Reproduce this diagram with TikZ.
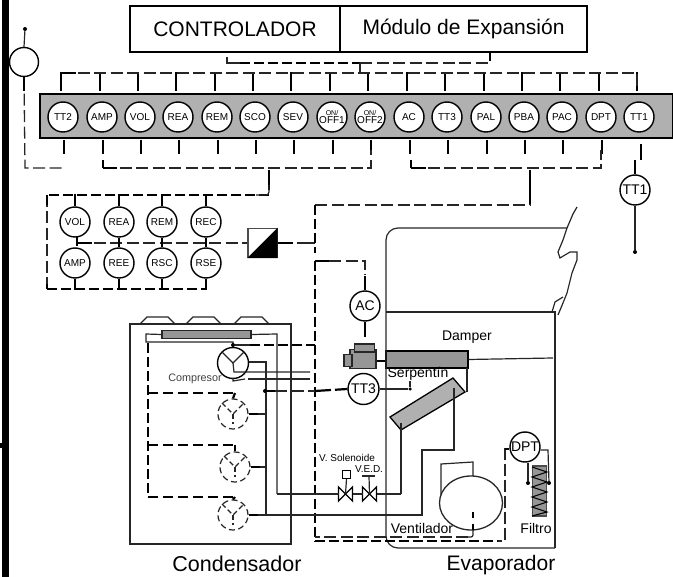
\documentclass[tikz,border=0pt]{standalone}
\usepackage{fontspec}
\setmainfont{Liberation Sans}
\usetikzlibrary{positioning, calc, shapes.geometric}
\definecolor{bargray}{RGB}{176, 176, 176}
\definecolor{coilgray}{RGB}{150, 150, 150}
\tikzset{
    sensor/.style={draw=black, fill=white, circle, line width=1.4pt, minimum size=30pt, inner sep=0pt, align=center, font=\fontsize{10}{8}\selectfont},
    bigsensor/.style={sensor, font=\fontsize{14}{14}\selectfont},
    wire/.style={draw=black!85, line width=1.2pt},
    stub/.style={draw=black, line width=2.2pt},
    signal/.style={draw=black!85, line width=1.3pt, dash pattern=on 12pt off 4.5pt},
    bus/.style={draw=black, line width=2.3pt, dash pattern=on 10pt off 4pt},
    label/.style={inner sep=0pt, font=\fontsize{14}{14}\selectfont},
    dot/.style={circle, fill=black, inner sep=0pt, minimum size=4pt},
    pump/.style={draw=black!85, fill=white, circle, line width=1.2pt, dash pattern=on 6pt off 3.5pt, minimum size=30pt, inner sep=0pt},
    valve/.style={draw=black, line width=1.3pt, fill=white}
}
\begin{document}
\begin{tikzpicture}[x=1pt, y=-1pt]
    \useasboundingbox (0,0) rectangle (673,577);
    \fill[black] (2,0) rectangle (9,577);
    \fill[black] (0,443) rectangle (9,448);

    % controller boxes
    \node[draw=black, line width=1.2pt, minimum width=210pt, minimum height=46pt, inner sep=0pt, font=\fontsize{21}{21}\selectfont] (ctrl) at (235,29) {CONTROLADOR};
    \node[draw=black, line width=1.2pt, minimum width=247pt, minimum height=46pt, inner sep=0pt, font=\fontsize{21}{21}\selectfont] (modulo) at (463.5,29) {Módulo de Expansión};

    % terminal bar
    \node[draw=black, line width=1.2pt, fill=bargray, minimum width=633pt, minimum height=44pt, inner sep=0pt] (bar) at (356.5,116) {};
    \foreach \name/\x/\txt in {TTdos/63/TT2, AMPa/102/AMP, VOLa/140/VOL, REAa/178/REA, REMa/217/REM, SCOa/255/SCO, SEVa/293/SEV, ONa/332/{\fontsize{7}{8}\selectfont ON/\\OFF1}, ONb/370/{\fontsize{7}{8}\selectfont ON/\\OFF2}, ACa/409/AC, TTtres/447/TT3, PALa/486/PAL, PBAa/524/PBA, PACa/562/PAC, DPTa/601/DPT, TTuno/639/TT1}
        \node[sensor] (\name) at (\x,117) {\txt};

    \foreach \name in {TTdos, AMPa, VOLa, REAa, REMa, SCOa, SEVa, ONa, ONb, ACa, TTtres, PALa, PBAa, PACa, DPTa, TTuno}
        \draw[stub] (\name.north) ++(-2,-29) -- ++(0,19);
    \foreach \name in {TTdos, AMPa, VOLa, REAa, REMa, SCOa, SEVa, ONa, ONb, ACa, TTtres, PALa, PBAa, PACa, DPTa}
        \draw[stub] (\name.south) ++(1,7) -- ++(0,14);

    \coordinate (topL) at (61,73);
    \coordinate (topR) at (637,73);
    \coordinate (lowA) at (103,168);
    \coordinate (lowB) at (371,168);
    \coordinate (lowC) at (411,168);
    \coordinate (lowD) at (601,168);
    \draw[signal] (topL) -- (topR) -- ++(0,17);
    \draw[signal] (lowA) -- (lowB) -- ++(0,-18);
    \draw[signal] (lowC) -- (lowD) -- ++(0,-18);
    \draw[stub] (lowA) -- ++(0,-8) (lowA) -- ++(14,0);
    \draw[stub] (lowC) -- ++(0,-8) (lowC) -- ++(15,0);
    \draw[stub] (topL) -- ++(15,0);
    \draw[stub] (ctrl.south -| 490,52) -- (490,61);

    % link to the controller
    \coordinate (linkA) at (227,63);
    \coordinate (linkB) at (490,63);
    \draw[wire] (227,57) -- (linkA) -- (240,63);
    \draw[bus] (240,63) -- (360,63);
    \draw[signal] (360,63) -- (linkB);
    \draw[wire] (360,63) -- (360,72);

    % room sensor on the left
    \node[draw=black, fill=white, circle, line width=1.4pt, minimum size=29pt, inner sep=0pt] (room) at (24,62) {};
    \node[dot] (roomtop) at (25,29) {};
    \draw[wire] (room.north) -- (roomtop);
    \coordinate (roomC) at (25,168);
    \draw[signal] (room.south) -- (roomC) -- (65,168);
    \draw[stub] (room.south) -- ++(0,14);

    % relay block
    \foreach \name/\x/\y/\txt in {VOLb/75/222/VOL, REAb/119/222/REA, REMb/162/222/REM, RECb/206/222/REC, AMPb/75/263/AMP, REEb/119/263/REE, RSCb/162/263/RSC, RSEb/206/263/RSE}
        \node[sensor] (\name) at (\x,\y) {\txt};
    \foreach \name in {VOLb, REAb, REMb, RECb}
        \draw[stub] (\name.north) -- ++(0,-12);
    \foreach \name in {AMPb, REEb, RSCb, RSEb}
        \draw[stub] (\name.south) -- ++(0,11);
    \coordinate (relayTL) at (47,195);
    \coordinate (relayBL) at (47,289);
    \coordinate (relayBR) at (207,289);
    \coordinate (relayTR) at (269,195);
    \draw[bus] (relayTR) -- (relayTL);
    \draw[signal] (relayTL) -- (relayBL);
    \draw[bus] (relayBL) -- (relayBR);
    \draw[stub] (relayTL) -- ++(0,10) (relayBL) -- ++(0,-5);
    \draw[stub] (269,170) -- (269,190);
    \draw[wire, rounded corners=3pt] (269,185) -- (relayTR) -- (256,195);

    \node[draw=black!70, line width=1.2pt, fill=white, minimum size=29pt, inner sep=0pt] (conv) at (262.5,243) {};
    \fill[black] (conv.south west) -- (conv.north east) -- (conv.south east) -- cycle;
    \coordinate (relayM) at (77,243);
    \draw[signal] (relayM) -- (conv.west);
    \draw[stub] (relayM) -- ++(0,-6) (relayM) -- ++(0,3) (relayM) -- ++(15,0);
    \foreach \name/\other in {REAb/REEb, REMb/RSCb, RECb/RSEb}
        \draw[stub] (\name.south) -- (\other.north);

    \coordinate (busT) at (315,205);
    \coordinate (busR) at (530,205);
    \coordinate (busL) at (315,261);
    \coordinate (busB) at (315,542);
    \draw[stub] (conv.east) -- ++(15,0);
    \draw[wire] (conv.east) ++(15,0) ++(4,0) -- (315,243);
    \draw[signal] (busT) -- (busR) -- (530,170);
    \draw[stub] (530,170) -- (530,204);
    \draw[bus] (busT) -- (315,253);
    \draw[bus] (busL) -- (busB);
    \draw[stub] (busL) -- ++(14,0);
    \draw[signal] (busL) ++(14,0) -- (365,261) -- (365,275);

    % damper and actuator
    \node[bigsensor] (AC) at (365,306) {AC};
    \draw[stub] (365,276) -- (AC.north);
    \draw[stub] (AC.south) -- (365,337);
    \node[draw=black!85, fill=coilgray, line width=1.2pt, minimum width=26pt, minimum height=19pt, inner sep=0pt] (motor) at (363,359) {};
    \node[draw=black!85, fill=coilgray, line width=1.2pt, minimum width=20pt, minimum height=8pt, inner sep=0pt] (motortop) at (364.5,348) {};
    \node[draw=black!85, fill=coilgray, line width=1.2pt, minimum width=8pt, minimum height=12pt, inner sep=0pt] (motorleft) at (348,360.5) {};
    \node[draw=black, fill=coilgray, line width=1.2pt, minimum width=82pt, minimum height=17pt, inner sep=0pt] (damper) at (427,359.5) {};
    \draw[stub] (motor.east) ++(0,2) -- (damper.west |- 0,361);
    \draw[wire] (damper.east) -- (553,358);

    % evaporator
    \draw[wire, rounded corners=12pt] (555,548) -- (386,548) -- (386,228) -- (567,228);
    \draw[wire] (555,548) -- (555,312) -- (386,312);
    \draw[wire] (577,207) -- (573,214) -- (567,228) -- (563,240) -- (558,252) -- (560,258) -- (570,252) -- (577,252) -- (577,260) -- (572,273) -- (567,293) -- (563,303) -- (558,315);
    \draw[wire] (552,312) -- (555,302) -- (563,297);
    \draw[wire] (467,368) -- (467,392);
    \node[label] (damperlbl) at (467,337) {Damper};
    \node[label] (serplbl) at (418,374) {Serpentín};

    \node[bigsensor, minimum size=31pt] (TTt) at (363.5,389) {TT3};
    \node[dot, minimum size=3.5pt] (TTtend) at (410,389) {};
    \draw[wire] (TTt.east) -- (TTtend);
    \draw[wire] (410,381) -- (TTtend);

    % coil
    \draw[draw=black, fill=bargray, line width=1.3pt] (390,417) -- (401,430) -- (465,392) -- (453,378) -- cycle;
    \node[valve, isosceles triangle, minimum size=0pt] at (0,-100) {};
    \coordinate (coilA) at (401,423);
    \coordinate (coilB) at (454,388);
    \draw[wire] (coilA) -- (401,494);
    \draw[wire] (coilB) -- (454,450) -- (422,450) -- (422,515) -- (266,515);

    % valves
    \foreach \name/\x in {valA/345.5, valB/369.5} {
        \coordinate (\name) at (\x,494);
        \draw[valve] (\name) -- ++(-7,-7) -- ++(0,14) -- cycle;
        \draw[valve] (\name) -- ++(7,-7) -- ++(0,14) -- cycle;
    }
    \node[draw=black, line width=1.2pt, fill=white, minimum size=8pt, inner sep=0pt] (solenoid) at (346.5,474.5) {};
    \draw[wire] (solenoid.south) -- (valA);
    \draw[wire] (valB) -- (369,476);
    \draw[wire] (362,476) -- (375,476);
    \draw[wire] (277,494) -- (338.5,494);
    \draw[wire] (352.5,494) -- (362.5,494);
    \draw[wire] (376.5,494) -- (401,494);
    \node[inner sep=0pt, font=\fontsize{10}{10}\selectfont] (vsol) at (347,458) {V. Solenoide};
    \node[inner sep=0pt, font=\fontsize{10}{10}\selectfont] (ved) at (369,469.5) {V.E.D.};

    % fan
    \node[draw=black!85, fill=white, ellipse, line width=1.3pt, minimum width=63pt, minimum height=54pt, inner sep=0pt] (fan) at (471,503) {};
    \draw[wire] (473,476) -- (473,462) -- (441,464) -- (441,495);
    \draw[stub] (473,512) -- (473,518);
    \draw[stub] (473,524) -- (473,530);
    \draw[wire, rounded corners=2pt] (473,530) -- (473,537) -- (468,537);
    \draw[signal] (468,537) -- (315,537);
    \draw[bus] (315,541) -- (500,541);
    \draw[wire, dash pattern=on 12pt off 4pt] (505,448) -- (505,541) -- (498,541);
    \node[label, fill=none] (ventlbl) at (422,528) {Ventilador};
    \node[label] (filtlbl) at (536,528) {Filtro};

    % filter
    \node[draw=black!70, fill=coilgray, line width=1.2pt, minimum width=14pt, minimum height=50pt, inner sep=0pt] (filtro) at (539.5,491) {};
    \draw[black, line width=1.1pt] (532,467) -- (547,472) -- (532,477) -- (547,482) -- (532,487) -- (547,492) -- (532,497) -- (547,502) -- (532,507) -- (547,512) -- (532,516);
    \node[bigsensor] (DPT) at (525,447) {DPT};
    \node[dot] (dptL) at (528,483) {};
    \node[dot] (dptR) at (549,483) {};
    \draw[wire] (DPT.south -| dptL) -- (dptL);
    \draw[wire] (DPT.east |- 0,450) -- (548,450) -- (dptR);
    \draw[stub, line width=1.6pt] (505,449) -- (DPT.west |- 0,449);

    % room sensor right
    \node[sensor, font=\fontsize{14}{14}\selectfont] (TTr) at (635,190) {TT1};
    \node[dot] (TTrend) at (635,252) {};
    \draw[wire] (TTr.south) -- (TTrend);
    \draw[stub] (641,144) -- (641,160);
    \draw[stub] (635,160) -- (TTr.north);

    % condenser
    \node[draw=black!85, line width=1.3pt, minimum width=161pt, minimum height=220pt, inner sep=0pt] (cond) at (210.5,434) {};
    \foreach \x in {140, 186, 234}
        \draw[wire] (\x,324) -- ++(7,-7) -- ++(21,0) -- ++(7,7);
    \node[draw=black!85, fill=coilgray, line width=1.2pt, minimum width=89pt, minimum height=8pt, inner sep=0pt] (coilC) at (206.5,334.5) {};
    \draw[wire] (coilC.west) -- (146,334) -- (146,342) -- (233,342) -- (233,350);
    \draw[wire] (coilC.east) -- (277,334) -- (277,494);

    \node[draw=black, fill=white, circle, line width=1.4pt, minimum size=31pt, inner sep=0pt] (comp) at (233,363) {};
    \draw[wire] (222,352) -- (comp.center) -- (244,352);
    \draw[wire] (comp.center) -- (234,372) -- (310,372);
    \draw[wire] (comp.east |- 0,362) -- (266,362) -- (266,515);
    \draw[wire] (233,378) -- (233,381) -- (245,379);
    \draw[wire] (248,379) -- (310,379);
    \node[inner sep=0pt, text=black!75, font=\fontsize{10.8}{11}\selectfont] (complbl) at (195,379) {Compresor};

    \node[dot] (compdot) at (233,345) {};
    \draw[wire, line width=1.5pt] (compdot) -- (250,345);
    \draw[bus] (250,345) -- (315,345);
    \draw[bus] (148,343) -- (148,497);

    \foreach \name/\x/\y/\top in {pumpA/233/414/393, pumpB/235/467/445, pumpC/233/515/497} {
        \node[pump] (\name) at (\x,\y) {};
        \draw[wire, dash pattern=on 5pt off 3pt] (\name.center) ++(-11,-11) -- (\name.center) -- ++(11,-11);
        \draw[wire, dash pattern=on 5pt off 3pt] (\name.center) -- ++(0,10);
        \draw[bus, dash pattern=on 10pt off 5pt, line width=2pt] (148,\top) -- (235,\top);
        \draw[stub] (235,\top) -- (\name.north);
        \draw[stub] (\name.east) -- ++(9,0);
        \draw[wire] (\name.east) ++(9,0) -- (266,\y);
    }
    \node[dot] (juncT) at (265,391) {};
    \draw[stub] (juncT) -- (275,391);
    \draw[signal] (275,391) -- (315,391);
    \draw[stub, dash pattern=on 16pt off 4pt] (315,391) -- (TTt.west);

    \node[inner sep=0pt, font=\fontsize{21.5}{22}\selectfont] (condlbl) at (237,564) {Condensador};
    \node[inner sep=0pt, font=\fontsize{21}{21}\selectfont] (evaplbl) at (501,565) {Evaporador};
\end{tikzpicture}
\end{document}
